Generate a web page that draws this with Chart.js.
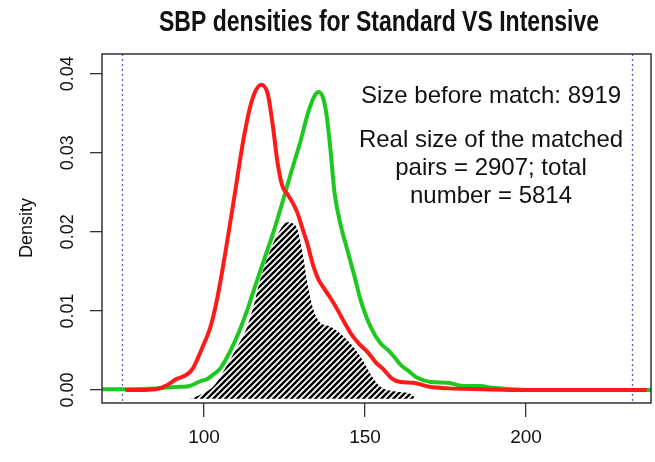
<!DOCTYPE html>
<html><head><meta charset="utf-8">
<script src="https://cdn.jsdelivr.net/npm/chart.js@4.4.1/dist/chart.umd.min.js"></script>
<style>html,body{margin:0;padding:0;background:#fff;}#wrap{width:655px;height:462px;}</style>
</head><body><div id="wrap"><canvas id="c" width="655" height="462"></canvas></div>
<script>
// ---- data ----
const titleText = 'SBP densities for Standard VS Intensive';
const yTitle = 'Density';
const noteLines = ['Size before match: 8919', 'Real size of the matched', 'pairs = 2907; total', 'number = 5814'];

const sbpRed = [76, 80, 85, 88.5, 91.5, 94.5, 96.5, 99.5, 102, 104, 106.5, 109.5, 112.5, 115, 117.8, 119.8, 121.3, 122.8, 124.3, 126, 127.5, 129, 130.5, 132, 134, 135.5, 137, 139.3, 141.5, 143.5, 145.5, 148, 151, 153.3, 155.5, 158.5, 161, 165, 170, 176, 186, 200, 215, 237];
const densRed = [0, 0, 0.0001, 0.0006, 0.0014, 0.0019, 0.0027, 0.0054, 0.0080, 0.0114, 0.0171, 0.0247, 0.0323, 0.0368, 0.0386, 0.0374, 0.0336, 0.0288, 0.0258, 0.0247, 0.0237, 0.0224, 0.0205, 0.0186, 0.0156, 0.0140, 0.0130, 0.0116, 0.0101, 0.0086, 0.0072, 0.0059, 0.0047, 0.0035, 0.0027, 0.0014, 0.0010, 0.0009, 0.0004, 0.0002, 0.0001, 0, 0, 0];

const sbpGreen = [68.3, 77, 85, 92.5, 95.5, 98.8, 101, 103, 105, 108, 110.6, 113.4, 116, 118.4, 121.5, 124.6, 126.8, 129.9, 132.4, 134.3, 135.6, 136.9, 138, 139.3, 140.5, 142.4, 144.5, 146.7, 148.6, 151.7, 154.8, 157, 159, 161, 163.2, 166.4, 170.4, 175.7, 180.7, 186, 189, 195, 202, 215, 238.8];
const densGreen = [0.0001, 0.0001, 0.0002, 0.0004, 0.0005, 0.0011, 0.0014, 0.0020, 0.0027, 0.0048, 0.0071, 0.0101, 0.0133, 0.0162, 0.0199, 0.0241, 0.0272, 0.0314, 0.0352, 0.0372, 0.0377, 0.0370, 0.0349, 0.0302, 0.0250, 0.0209, 0.0177, 0.0144, 0.0114, 0.0080, 0.0059, 0.0051, 0.0042, 0.0032, 0.0025, 0.0015, 0.0010, 0.0009, 0.0005, 0.0005, 0.0003, 0.0001, 0, 0, 0];

const sbpMatched = [95.6, 98.8, 102.8, 105.5, 108.1, 110.8, 113.4, 115.5, 117.4, 120.6, 123.7, 125.9, 127.4, 129, 130.8, 132.1, 134, 136.1, 139.3, 144.5, 148.6, 152.3, 154.8, 159.5, 164.2, 165.7];
const densMatched = [-0.0011, -0.0006, 0.0004, 0.0020, 0.0038, 0.0058, 0.0080, 0.0108, 0.0139, 0.0177, 0.0203, 0.0212, 0.0211, 0.0203, 0.0168, 0.0135, 0.0101, 0.0085, 0.0080, 0.0063, 0.0042, 0.0016, 0.0004, -0.0002, -0.0005, -0.0011];
const matchedBase = -0.0011;

const vLines = [74.5, 233];
const xTicks = [100, 150, 200];
const yTicks = [0, 0.01, 0.02, 0.03, 0.04];
const xRange = [68.3, 238.8];
const yRange = [-0.00165, 0.0425];
// -------------------------------------

const FONT = "'Liberation Sans', Arial, sans-serif";
function pts(xs, ys) { return xs.map((x, i) => ({ x: x, y: ys[i] })); }
function hatch() {
  const s = 6, c = document.createElement('canvas');
  c.width = s; c.height = s;
  const g = c.getContext('2d');
  g.strokeStyle = '#000'; g.lineWidth = 2.4;
  g.beginPath();
  g.moveTo(-1, s + 1); g.lineTo(s + 1, -1);
  g.moveTo(-s / 2 - 1, s / 2 + 1); g.lineTo(s / 2 + 1, -s / 2 - 1);
  g.moveTo(s / 2 - 1, s * 1.5 + 1); g.lineTo(s * 1.5 + 1, s / 2 - 1);
  g.stroke();
  return g.createPattern(c, 'repeat');
}

const decor = {
  id: 'decor',
  beforeDatasetsDraw(chart) {
    const { ctx, chartArea: a, scales: { x } } = chart;
    ctx.save();
    ctx.strokeStyle = '#5b5bd6'; ctx.lineWidth = 1.3; ctx.setLineDash([2, 3]);
    vLines.forEach(v => {
      const px = Math.round(x.getPixelForValue(v)) + 0.5;
      ctx.beginPath(); ctx.moveTo(px, a.top); ctx.lineTo(px, a.bottom); ctx.stroke();
    });
    ctx.restore();
  },
  afterDraw(chart) {
    const { ctx, chartArea: a, scales: { y } } = chart;
    ctx.save();
    ctx.strokeStyle = '#333'; ctx.lineWidth = 1.5;
    ctx.strokeRect(a.left, a.top, a.right - a.left, a.bottom - a.top);
    ctx.fillStyle = '#111';
    ctx.font = '18px ' + FONT; ctx.textAlign = 'center'; ctx.textBaseline = 'middle';
    yTicks.forEach(v => {
      const py = y.getPixelForValue(v);
      ctx.save(); ctx.translate(68, py); ctx.rotate(-Math.PI / 2);
      ctx.fillText(v.toFixed(2), 0, 0); ctx.restore();
    });
    ctx.save(); ctx.translate(27, 228); ctx.rotate(-Math.PI / 2);
    ctx.fillText(yTitle, 0, 0); ctx.restore();
    // title: condensed bold, squeezed to the reference width
    ctx.font = 'bold 29px ' + FONT;
    const w = ctx.measureText(titleText).width;
    ctx.save(); ctx.translate(379, 23); ctx.scale(440 / w, 1);
    ctx.fillText(titleText, 0, 0); ctx.restore();
    ctx.font = '24px ' + FONT;
    const ny = [96, 140, 168, 196];
    noteLines.forEach((t, i) => ctx.fillText(t, 491, ny[i]));
    ctx.restore();
  }
};

new Chart(document.getElementById('c'), {
  type: 'line',
  data: {
    datasets: [
      { data: pts(sbpRed, densRed), borderColor: '#ff1a1a', borderWidth: 4, pointRadius: 0, fill: false,
        tension: 0.4, cubicInterpolationMode: 'monotone', borderJoinStyle: 'round', borderCapStyle: 'round' },
      { data: pts(sbpGreen, densGreen), borderColor: '#1ec81e', borderWidth: 4, pointRadius: 0, fill: false,
        tension: 0.4, cubicInterpolationMode: 'monotone', borderJoinStyle: 'round', borderCapStyle: 'round' },
      { data: pts(sbpMatched, densMatched), borderWidth: 0, borderColor: 'rgba(0,0,0,0)', pointRadius: 0,
        backgroundColor: hatch(), fill: { value: matchedBase }, tension: 0.3, cubicInterpolationMode: 'monotone' }
    ]
  },
  options: {
    responsive: false, animation: false, devicePixelRatio: 1,
    layout: { padding: { top: 54, left: 0, right: 4, bottom: 0 } },
    plugins: { legend: { display: false }, title: { display: false }, tooltip: { enabled: false } },
    scales: {
      x: {
        type: 'linear', min: xRange[0], max: xRange[1],
        afterBuildTicks: s => { s.ticks = xTicks.map(v => ({ value: v })); },
        afterFit: s => { s.height = 59; },
        ticks: { font: { size: 19, family: FONT }, color: '#111', padding: 9, maxRotation: 0, callback: v => String(v) },
        grid: { display: true, drawOnChartArea: false, drawTicks: true, tickLength: 14, color: '#333', lineWidth: 1.3 },
        border: { display: false }
      },
      y: {
        type: 'linear', min: yRange[0], max: yRange[1],
        afterBuildTicks: s => { s.ticks = yTicks.map(v => ({ value: v })); },
        afterFit: s => { s.width = 102; },
        ticks: { display: false },
        grid: { display: true, drawOnChartArea: false, drawTicks: true, tickLength: 12, color: '#333', lineWidth: 1.3 },
        border: { display: false }
      }
    }
  },
  plugins: [decor]
});
</script>
</body></html>
